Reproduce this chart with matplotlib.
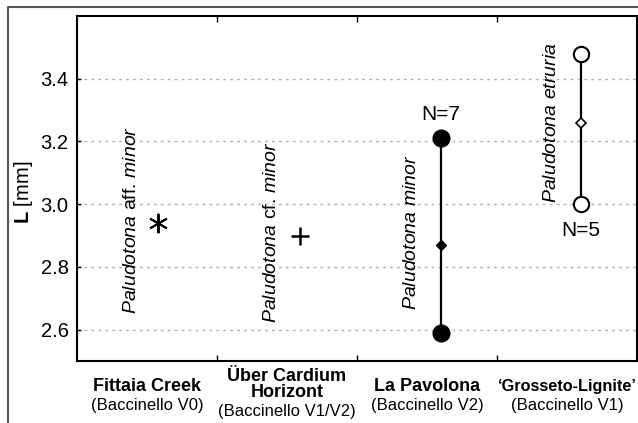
import matplotlib
matplotlib.use("Agg")
import matplotlib.pyplot as plt
from matplotlib.lines import Line2D
import matplotlib.transforms as mtransforms

plt.rcParams['font.family'] = ['Liberation Sans', 'DejaVu Sans']
plt.rcParams['mathtext.fontset'] = 'custom'
plt.rcParams['mathtext.rm'] = 'Liberation Sans'
plt.rcParams['mathtext.it'] = 'Liberation Sans:italic'
plt.rcParams['mathtext.bf'] = 'Liberation Sans:bold'

# Data
sites = ["Fittaia Creek", "Über Cardium\nHorizont", "La Pavolona", "\u2018Grosseto-Lignite\u2019"]
units = ["(Baccinello V0)", "(Baccinello V1/V2)", "(Baccinello V2)", "(Baccinello V1)"]
species = [r"$\it{Paludotona}$ aff. $\it{minor}$",
           r"$\it{Paludotona}$ cf. $\it{minor}$",
           r"$\it{Paludotona}$ $\it{minor}$",
           r"$\it{Paludotona}$ $\it{etruria}$"]
species_y = [2.95, 2.91, 2.91, 3.26]
single_values = [2.94, 2.90]          # Fittaia (asterisk), Über Cardium (plus)
pav_min, pav_mean, pav_max, pav_n = 2.59, 2.87, 3.21, 7
gro_min, gro_mean, gro_max, gro_n = 3.00, 3.26, 3.48, 5
yticks = [2.6, 2.8, 3.0, 3.2, 3.4]

W, H = 638, 423
fig = plt.figure(figsize=(W / 100, H / 100), dpi=100)
ax = fig.add_axes([77 / W, (H - 361) / H, (637 - 77) / W, (361 - 16) / H])

off = 0.6
# asterisk
ax.plot([0 + off - 0.02], [single_values[0]], linestyle='none', marker=(6, 2, 0),
        markersize=14, color='black', markeredgewidth=1.4)
# plus
ax.plot([1 + off - 0.01], [single_values[1]], linestyle='none', marker='+',
        markersize=13, color='black', markeredgewidth=1.8)
# La Pavolona range
ax.plot([2 + off, 2 + off], [pav_min, pav_max], color='black', lw=1.6, zorder=2)
ax.plot([2 + off] * 2, [pav_min, pav_max], linestyle='none', marker='o',
        markersize=12, color='black', zorder=3)
ax.plot([2 + off], [pav_mean], linestyle='none', marker='D', markersize=5,
        color='black', zorder=3)
ax.text(2 + off, pav_max + 0.045, f"N={pav_n}", ha='center', va='bottom', fontsize=15)
# Grosseto range
ax.plot([3 + off, 3 + off], [gro_min, gro_max], color='black', lw=1.6, zorder=2)
ax.plot([3 + off] * 2, [gro_min, gro_max], linestyle='none', marker='o',
        markersize=11, markerfacecolor='white', markeredgecolor='black',
        markeredgewidth=1.5, zorder=3)
ax.plot([3 + off], [gro_mean], linestyle='none', marker='D', markersize=5.5,
        markerfacecolor='white', markeredgecolor='black', markeredgewidth=1.2, zorder=3)
ax.text(3 + off, gro_min - 0.055, f"N={gro_n}", ha='center', va='top', fontsize=15)

# species labels
for i, (s, yy) in enumerate(zip(species, species_y)):
    ax.text(i + 0.39, yy, s, rotation=90, ha='center', va='center', fontsize=14)

ax.set_xlim(0, 4)
ax.set_ylim(2.5, 3.6)
ax.set_yticks(yticks)
ax.set_yticklabels([f"{v:.1f}" for v in yticks], fontsize=14.5)
ax.set_xticks([1, 2, 3])
ax.set_xticklabels([])
ax.tick_params(axis='x', direction='in', length=4, top=True, width=1)
ax.tick_params(axis='y', direction='in', length=3, width=1, pad=6)
ax.grid(axis='y', linestyle=(0, (2, 3)), color='#b0b0b0', lw=1)
for sp in ax.spines.values():
    sp.set_linewidth(1.5)

ax.set_ylabel(r"$\bf{L}$ [mm]", fontsize=14.5)
ax.yaxis.set_label_coords(-0.075, 0.49)

# category labels
bold_sizes = [13, 13, 13, 11.7]
trans = mtransforms.blended_transform_factory(ax.transData, ax.transAxes)
for i, (site, unit) in enumerate(zip(sites, units)):
    if "\n" in site:
        ax.text(i + 0.5, -0.02, site, transform=trans, ha='center', va='top',
                fontsize=bold_sizes[i], fontweight='bold', linespacing=0.9)
        ax.text(i + 0.5, -0.125, unit, transform=trans, ha='center', va='top',
                fontsize=12)
    else:
        ax.text(i + 0.5, -0.048 - (0.003 if bold_sizes[i] < 13 else 0), site,
                transform=trans, ha='center', va='top',
                fontsize=bold_sizes[i], fontweight='bold')
        ax.text(i + 0.5, -0.108, unit, transform=trans, ha='center', va='top',
                fontsize=12)

# outer frame
fx = 8 / W
fy = 1 - 7.5 / H
fig.add_artist(Line2D([fx, fx, 1.0], [0.0, fy, fy], transform=fig.transFigure,
                      color='#555555', lw=1.5))

fig.savefig("out.png", dpi=100)
